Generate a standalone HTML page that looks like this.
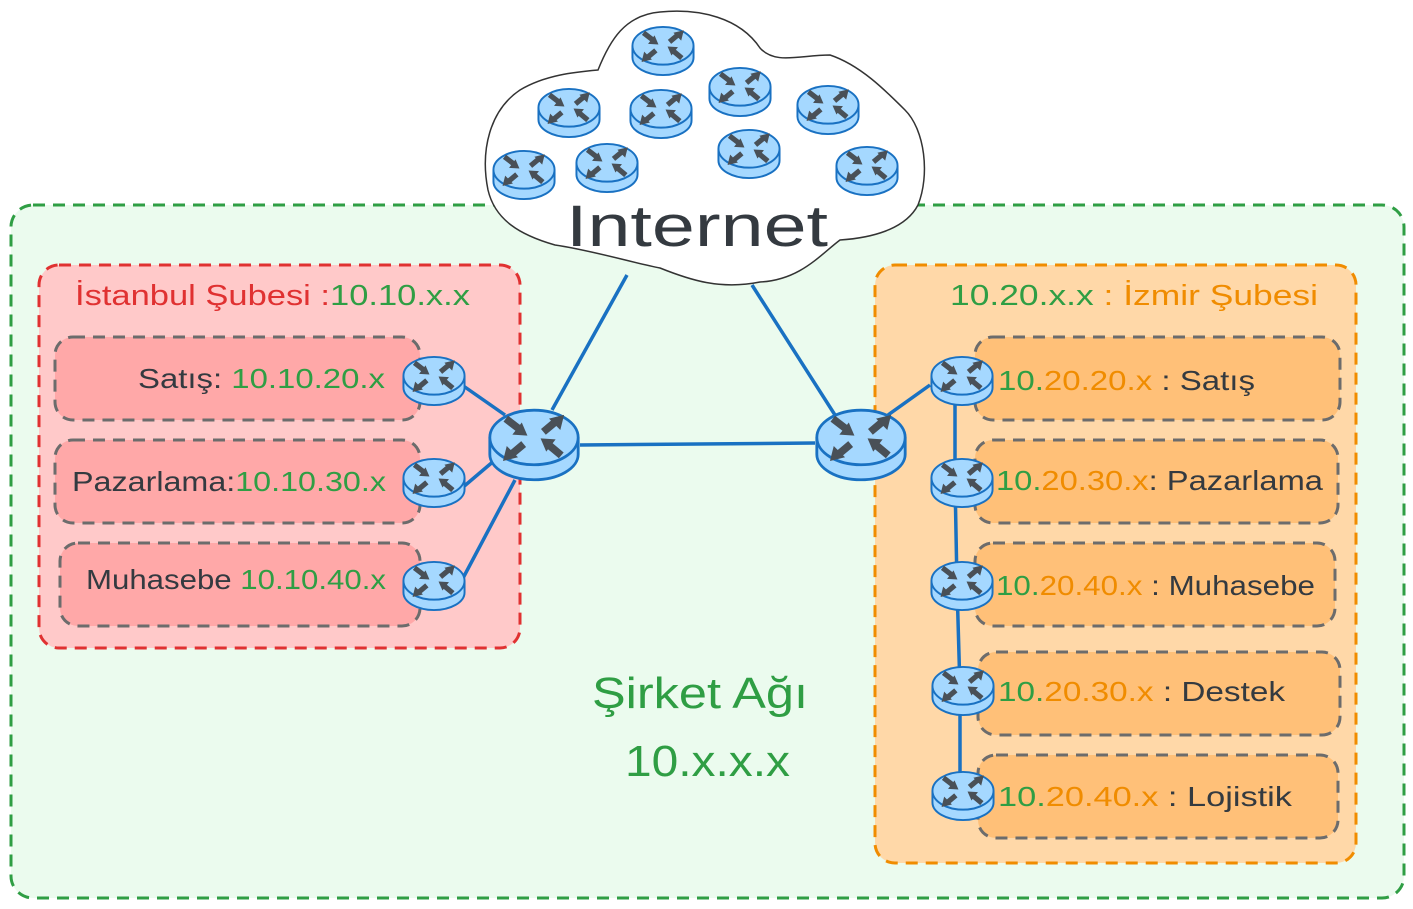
<!DOCTYPE html>
<html><head><meta charset="utf-8"><style>
html,body{margin:0;padding:0;background:#fff;}
svg{display:block;}
text{font-family:"Liberation Sans","DejaVu Sans",sans-serif;}
</style></head><body>
<svg width="1413" height="909" viewBox="0 0 1413 909" xmlns="http://www.w3.org/2000/svg">
<defs>
<symbol id="r" viewBox="0 0 100 80">
  <path d="M3,32 L3,50 A47,27 0 0 0 97,50 L97,32" fill="#a5d8ff" stroke="#1971c2" stroke-width="3"/>
  <ellipse cx="50" cy="32" rx="47" ry="29" fill="#a5d8ff" stroke="#1971c2" stroke-width="3"/>
  <g stroke="#495057" stroke-width="8" fill="#495057">
    <line x1="20" y1="12" x2="33" y2="22"/><polygon points="43,30 27,29 37,16" stroke="none"/>
    <line x1="60" y1="26" x2="72" y2="16"/><polygon points="82,8 78,24 66,12" stroke="none"/>
    <line x1="39" y1="39" x2="27" y2="49"/><polygon points="17,57 21,41 33,53" stroke="none"/>
    <line x1="79" y1="51" x2="67" y2="41"/><polygon points="57,33 73,34 63,47" stroke="none"/>
  </g>
</symbol>
</defs>

<rect x="11" y="205" width="1393" height="693" rx="22" fill="#ebfbee" stroke="#2f9e44" stroke-width="3" stroke-dasharray="12,8"/>

<rect x="39" y="265" width="481" height="383" rx="20" fill="#ffc9c9" stroke="#e03131" stroke-width="3" stroke-dasharray="12,8"/>
<rect x="55" y="337" width="365" height="83" rx="18" fill="#ffa8a8" stroke="#6c6c6c" stroke-width="3" stroke-dasharray="12,8"/>
<rect x="55" y="440" width="365" height="83" rx="18" fill="#ffa8a8" stroke="#6c6c6c" stroke-width="3" stroke-dasharray="12,8"/>
<rect x="60" y="543" width="360" height="83" rx="18" fill="#ffa8a8" stroke="#6c6c6c" stroke-width="3" stroke-dasharray="12,8"/>

<rect x="875" y="265" width="481" height="598" rx="20" fill="#ffd8a8" stroke="#f08c00" stroke-width="3" stroke-dasharray="12,8"/>
<rect x="975" y="337" width="365" height="83" rx="18" fill="#ffc078" stroke="#6c6c6c" stroke-width="3" stroke-dasharray="12,8"/>
<rect x="975" y="440" width="363" height="83" rx="18" fill="#ffc078" stroke="#6c6c6c" stroke-width="3" stroke-dasharray="12,8"/>
<rect x="975" y="543" width="360" height="83" rx="18" fill="#ffc078" stroke="#6c6c6c" stroke-width="3" stroke-dasharray="12,8"/>
<rect x="978" y="652" width="362" height="83" rx="18" fill="#ffc078" stroke="#6c6c6c" stroke-width="3" stroke-dasharray="12,8"/>
<rect x="978" y="755" width="360" height="83" rx="18" fill="#ffc078" stroke="#6c6c6c" stroke-width="3" stroke-dasharray="12,8"/>

<g stroke="#1971c2" stroke-width="3.5" fill="none">
  <line x1="552" y1="410" x2="627" y2="275"/>
  <line x1="835" y1="415" x2="752" y2="285"/>
  <line x1="580" y1="445" x2="815" y2="443"/>
  <line x1="462" y1="385" x2="505" y2="415"/>
  <line x1="462" y1="488" x2="495" y2="460"/>
  <line x1="462" y1="580" x2="515" y2="480"/>
  <line x1="888" y1="415" x2="930" y2="385"/>
  <polyline points="955,400 955,480 957,585 960,690 960,795"/>
</g>

<path d="M598,70 C610,40 625,15 660,12 C700,8 740,18 760,48 C775,65 800,55 830,55 C860,65 885,90 905,110 C925,130 930,175 918,205 C905,230 870,238 840,240 C820,255 800,280 760,282 C720,290 690,280 660,268 C630,262 590,250 555,245 C520,235 495,220 488,190 C480,150 490,110 520,90 C545,75 575,72 598,70 Z" fill="#fff" stroke="#333" stroke-width="1.5"/>

<use href="#r" x="401" y="355" width="66" height="52"/>
<use href="#r" x="401" y="457" width="66" height="52"/>
<use href="#r" x="401" y="560" width="66" height="52"/>
<use href="#r" x="487" y="407" width="94" height="76"/>
<use href="#r" x="814" y="407" width="94" height="76"/>
<use href="#r" x="929" y="355" width="66" height="52"/>
<use href="#r" x="929" y="457" width="66" height="52"/>
<use href="#r" x="929" y="560" width="66" height="52"/>
<use href="#r" x="930" y="665" width="66" height="52"/>
<use href="#r" x="930" y="770" width="66" height="52"/>

<use href="#r" x="630" y="25" width="66" height="52"/>
<use href="#r" x="536" y="87" width="66" height="52"/>
<use href="#r" x="628" y="88" width="66" height="52"/>
<use href="#r" x="707" y="66" width="66" height="52"/>
<use href="#r" x="795" y="84" width="66" height="52"/>
<use href="#r" x="491" y="149" width="66" height="52"/>
<use href="#r" x="574" y="142" width="66" height="52"/>
<use href="#r" x="716" y="128" width="66" height="52"/>
<use href="#r" x="834" y="145" width="66" height="52"/>

<text x="566" y="246" font-size="58" fill="#343a40" textLength="262" lengthAdjust="spacingAndGlyphs">Internet</text>

<text x="75" y="305" font-size="29" fill="#e03131" textLength="395" lengthAdjust="spacingAndGlyphs">İstanbul Şubesi :<tspan fill="#2f9e44">10.10.x.x</tspan></text>
<text x="138" y="388" font-size="28" fill="#343a40" textLength="247" lengthAdjust="spacingAndGlyphs">Satış: <tspan fill="#2f9e44">10.10.20.x</tspan></text>
<text x="72" y="491" font-size="28" fill="#343a40" textLength="314" lengthAdjust="spacingAndGlyphs">Pazarlama:<tspan fill="#2f9e44">10.10.30.x</tspan></text>
<text x="86" y="589" font-size="28" fill="#343a40" textLength="300" lengthAdjust="spacingAndGlyphs">Muhasebe <tspan fill="#2f9e44">10.10.40.x</tspan></text>

<text x="950" y="305" font-size="29" fill="#f08c00" textLength="368" lengthAdjust="spacingAndGlyphs"><tspan fill="#2f9e44">10.20.x.x</tspan> : İzmir Şubesi</text>
<text x="998" y="390" font-size="28" fill="#343a40" textLength="257" lengthAdjust="spacingAndGlyphs"><tspan fill="#2f9e44">10.</tspan><tspan fill="#f08c00">20.20.x</tspan> : Satış</text>
<text x="996" y="490" font-size="28" fill="#343a40" textLength="327" lengthAdjust="spacingAndGlyphs"><tspan fill="#2f9e44">10.</tspan><tspan fill="#f08c00">20.30.x</tspan>: Pazarlama</text>
<text x="996" y="595" font-size="28" fill="#343a40" textLength="319" lengthAdjust="spacingAndGlyphs"><tspan fill="#2f9e44">10.</tspan><tspan fill="#f08c00">20.40.x</tspan> : Muhasebe</text>
<text x="998" y="701" font-size="28" fill="#343a40" textLength="287" lengthAdjust="spacingAndGlyphs"><tspan fill="#2f9e44">10.</tspan><tspan fill="#f08c00">20.30.x</tspan> : Destek</text>
<text x="998" y="806" font-size="28" fill="#343a40" textLength="294" lengthAdjust="spacingAndGlyphs"><tspan fill="#2f9e44">10.</tspan><tspan fill="#f08c00">20.40.x</tspan> : Lojistik</text>

<text x="592" y="708" font-size="44" fill="#2f9e44" textLength="216" lengthAdjust="spacingAndGlyphs">Şirket Ağı</text>
<text x="625" y="776" font-size="44" fill="#2f9e44" textLength="165" lengthAdjust="spacingAndGlyphs">10.x.x.x</text>
</svg>
</body></html>
